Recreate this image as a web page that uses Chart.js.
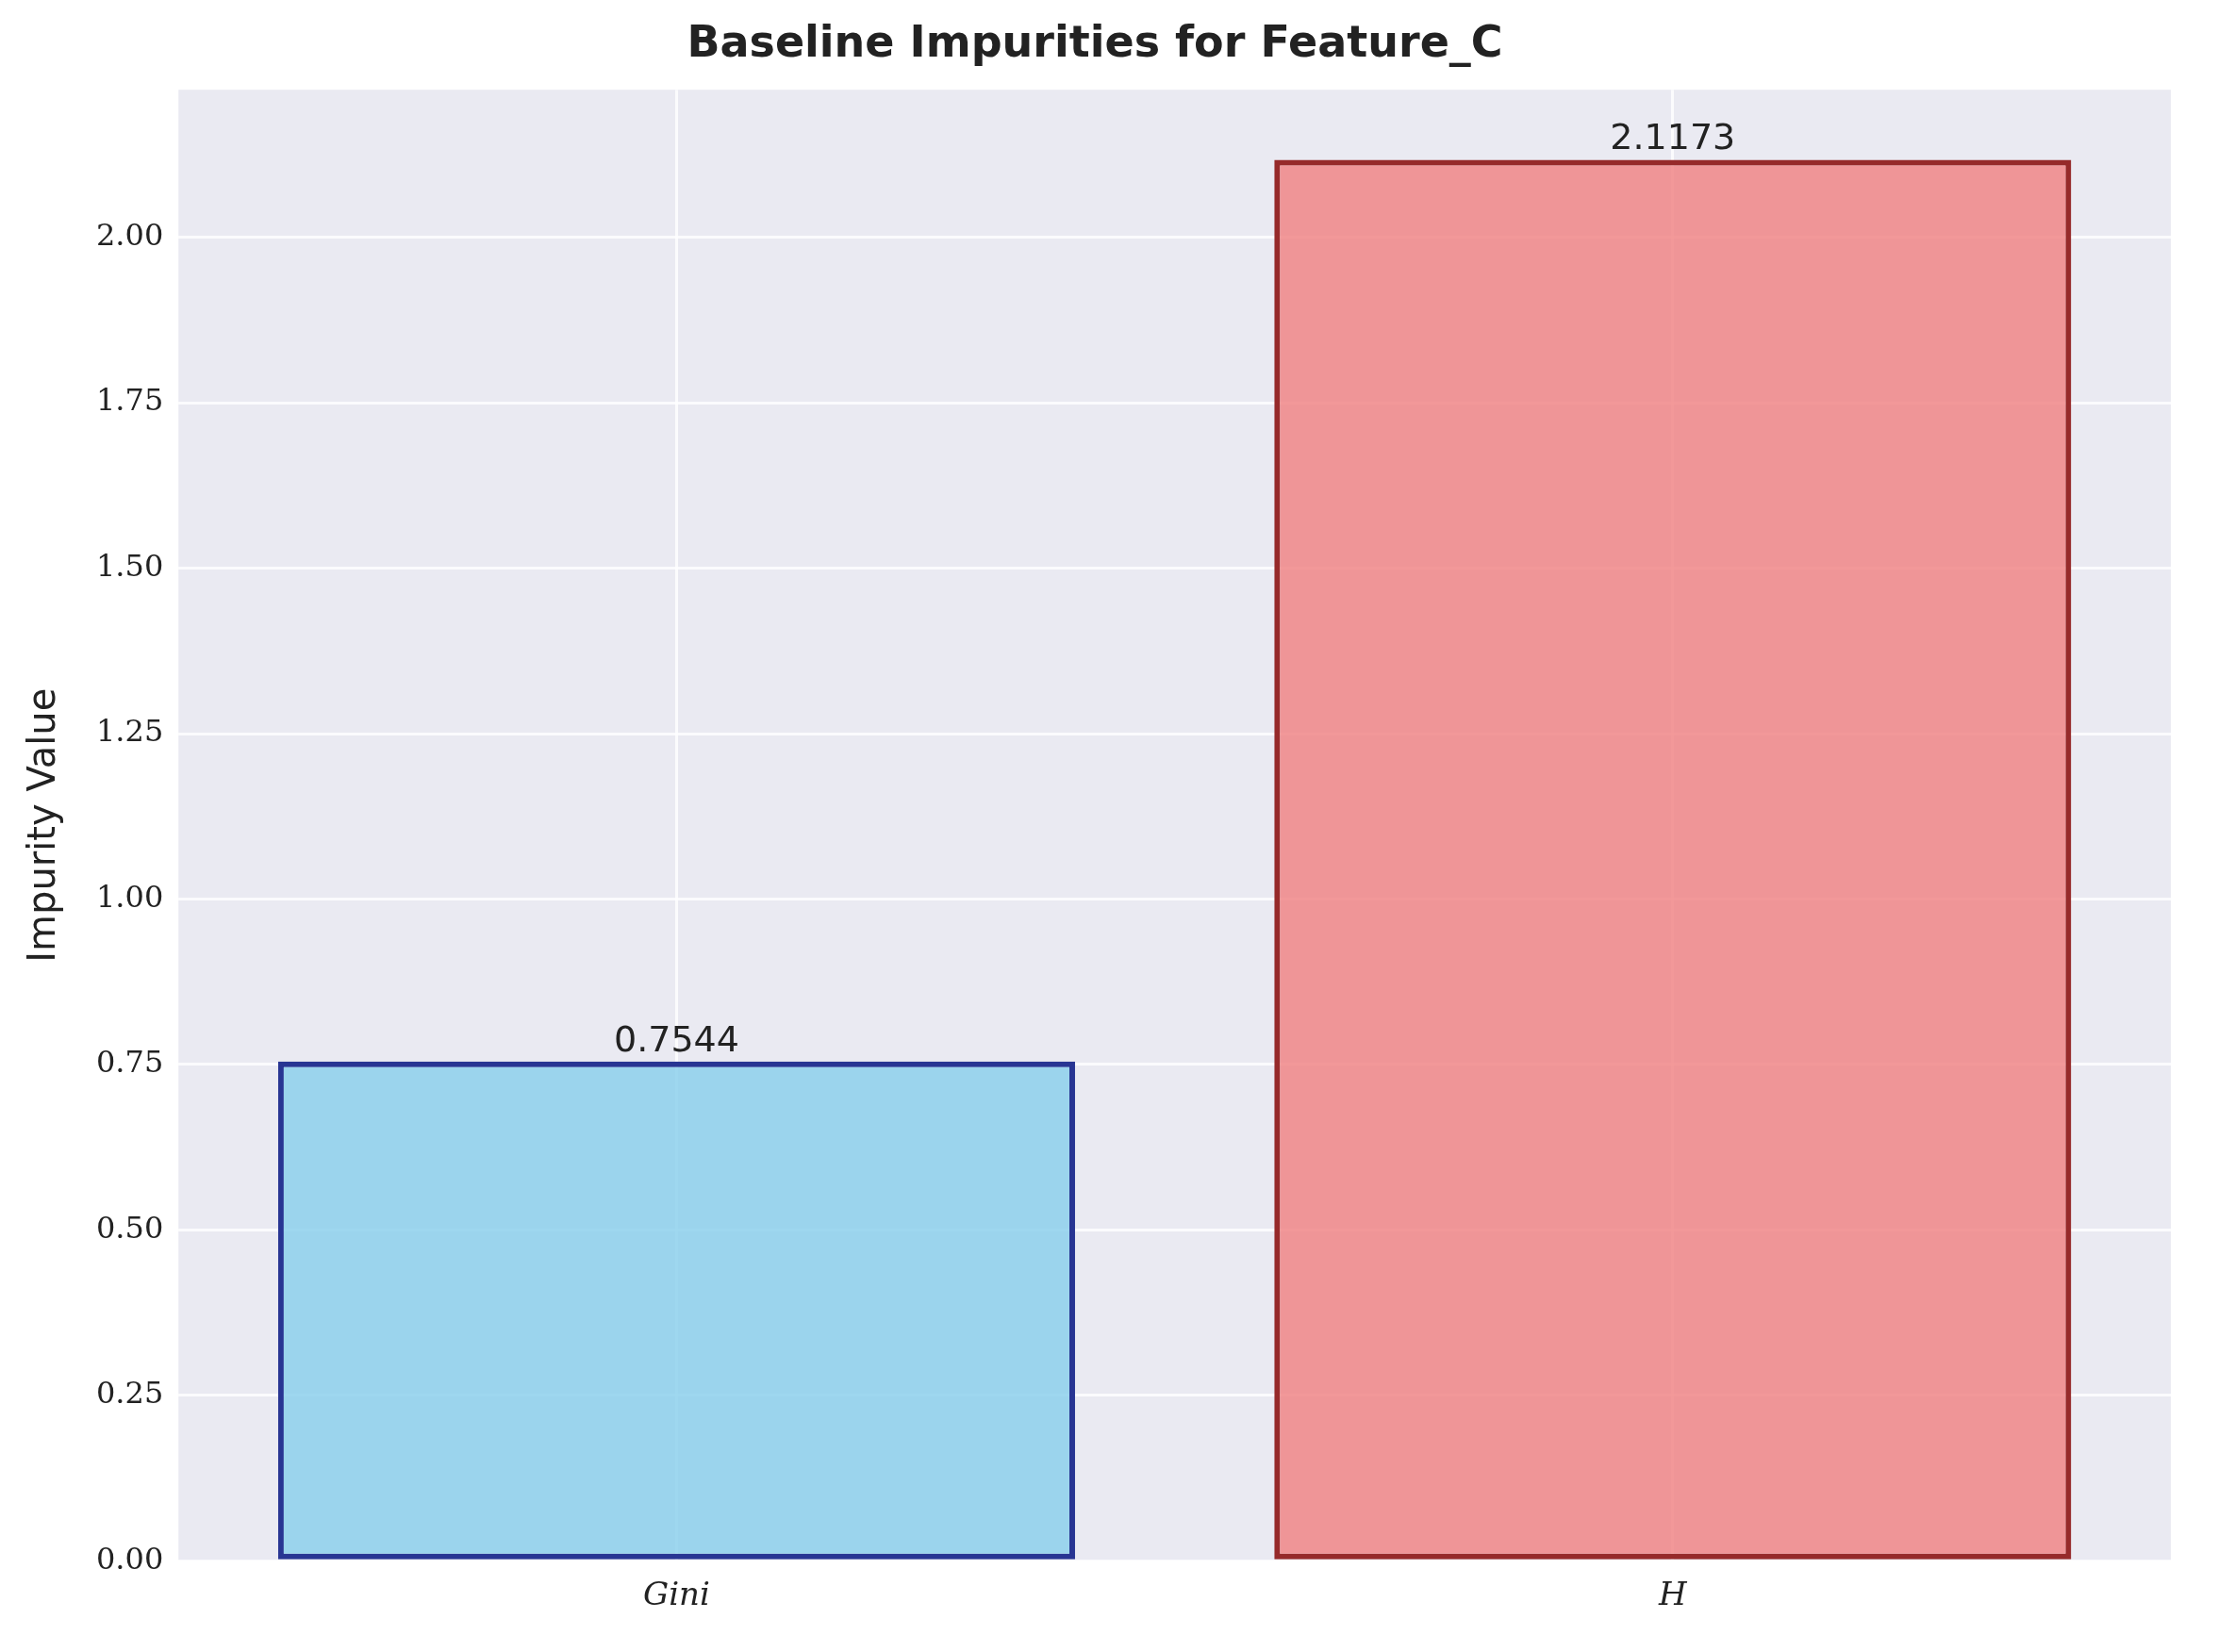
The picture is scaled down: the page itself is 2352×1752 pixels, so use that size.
<!DOCTYPE html>
<html>
<head>
<meta charset="utf-8">
<script src="https://cdn.jsdelivr.net/npm/chart.js@4"></script>
<style>
  body { margin: 0; background: #fff; }
  canvas { display: block; }
</style>
</head>
<body>
<canvas id="chart" width="2352" height="1752" style="width:2352px;height:1752px"></canvas>
<script>
const categories = ['Gini', 'H'];
const impurities = [0.7544, 2.1173];
const fillColors = ['rgba(135, 206, 235, 0.8)', 'rgba(240, 128, 128, 0.8)'];
const edgeColors = ['#283593', '#962a2a'];
const yTicks = [0, 0.25, 0.5, 0.75, 1, 1.25, 1.5, 1.75, 2];

const plotBg = {
  id: 'plotBg',
  beforeDraw(chart) {
    const { ctx, chartArea: a } = chart;
    ctx.save();
    ctx.fillStyle = '#eaeaf2';
    ctx.fillRect(a.left, a.top, a.right - a.left, a.bottom - a.top);
    ctx.restore();
  }
};

const valueLabels = {
  id: 'valueLabels',
  afterDatasetsDraw(chart) {
    const { ctx } = chart;
    const meta = chart.getDatasetMeta(0);
    ctx.save();
    ctx.font = '38px "DejaVu Sans"';
    ctx.fillStyle = '#222';
    ctx.textAlign = 'center';
    ctx.textBaseline = 'bottom';
    meta.data.forEach((bar, i) => {
      ctx.fillText(impurities[i].toFixed(4), bar.x, bar.y - 2);
    });
    ctx.restore();
  }
};

new Chart(document.getElementById('chart'), {
  type: 'bar',
  data: {
    labels: categories,
    datasets: [{
      data: impurities,
      backgroundColor: fillColors,
      borderColor: edgeColors,
      borderWidth: 6,
      borderSkipped: false,
      barPercentage: 0.8,
      categoryPercentage: 1.0,
    }],
  },
  options: {
    responsive: false,
    devicePixelRatio: 1,
    animation: false,
    layout: { padding: { left: 20, right: 50, top: 10, bottom: 20 } },
    plugins: {
      legend: { display: false },
      tooltip: { enabled: false },
      title: {
        display: true,
        text: 'Baseline Impurities for Feature_C',
        font: { family: 'DejaVu Sans', size: 46 },
        color: '#222',
        padding: { top: 10, bottom: 20 },
      },
    },
    scales: {
      x: {
        offset: true,
        grid: { offset: false, color: 'rgba(255,255,255,0.8)', lineWidth: 3, drawTicks: false },
        border: { display: false },
        ticks: {
          font: { family: 'DejaVu Serif', size: 34, style: 'italic' },
          color: '#222',
          padding: 18,
        },
      },
      y: {
        min: 0,
        max: 2.223,
        afterBuildTicks(axis) { axis.ticks = yTicks.map(v => ({ value: v })); },
        grid: { color: 'rgba(255,255,255,0.8)', lineWidth: 3, drawTicks: false },
        border: { display: false },
        ticks: {
          font: { family: 'DejaVu Serif', size: 32 },
          color: '#222',
          padding: 16,
          callback: v => v.toFixed(2),
        },
        title: {
          display: true,
          text: 'Impurity Value',
          font: { family: 'DejaVu Sans', size: 40 },
          color: '#222',
          padding: { bottom: 14 },
        },
      },
    },
  },
  plugins: [plotBg, valueLabels],
});
</script>
</body>
</html>
